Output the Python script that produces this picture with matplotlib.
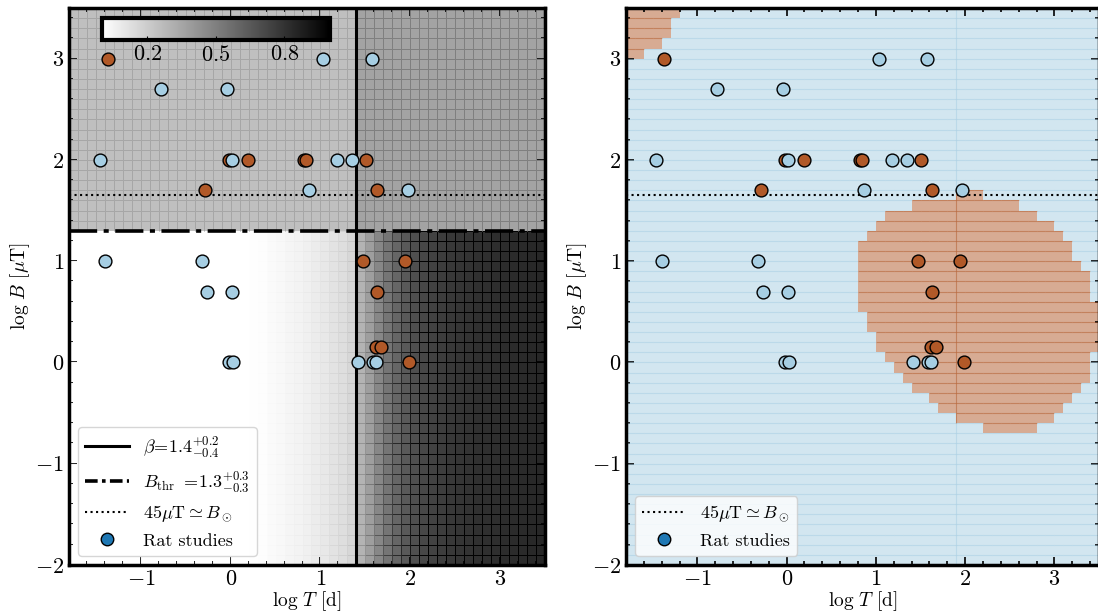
import numpy as np
import matplotlib
matplotlib.use('Agg')
import matplotlib.pyplot as plt
from matplotlib.colors import ListedColormap, Normalize
from matplotlib.collections import LineCollection
from matplotlib.lines import Line2D
from matplotlib.ticker import MultipleLocator

plt.rcParams['font.family'] = 'serif'
plt.rcParams['font.serif'] = ['cmr10']
plt.rcParams['mathtext.fontset'] = 'cm'
plt.rcParams['axes.formatter.use_mathtext'] = True

# rat studies: log duration [d], log field [uT]
T_pos = [-1.37, -0.02, 0.19, 0.82, 0.84, 1.51, -0.29, 1.63, 1.47, 1.94, 1.63, 1.62, 1.67, 1.99]
B_pos = [3.0, 2.0, 2.0, 2.0, 2.0, 2.0, 1.7, 1.7, 1.0, 1.0, 0.7, 0.15, 0.15, 0.0]
T_neg = [1.03, 1.57, -0.78, -0.04, -1.46, 0.02, 1.18, 1.35, 0.87, 1.97,
         -1.40, -0.32, -0.26, 0.01, -0.02, 0.03, 1.42, 1.58, 1.62]
B_neg = [3.0, 3.0, 2.7, 2.7, 2.0, 2.0, 2.0, 2.0, 1.7, 1.7,
         1.0, 1.0, 0.7, 0.7, 0.0, 0.0, 0.0, 0.0, 0.0]

beta = 1.4
B_thr = 1.3
B_sun = np.log10(45)

# model grid (0.1 dex cells)
T_edges = np.round(np.arange(-1.8, 3.55, 0.1), 2)
B_edges = np.round(np.arange(-2.0, 3.55, 0.1), 2)

# probability below threshold, one value per T column (from -1.8)
gray_below = [0.0] * 20 + [0.005, 0.01, 0.02, 0.03, 0.04, 0.05, 0.06, 0.075, 0.09, 0.11,
                           0.13, 0.16, 0.30, 0.38, 0.47, 0.54, 0.60, 0.65, 0.69, 0.72,
                           0.74, 0.76, 0.78, 0.79, 0.80, 0.81, 0.815, 0.82, 0.825, 0.83,
                           0.835, 0.84, 0.845]
gray_above_left = 0.25
gray_above_right = 0.36

# classifier region, rows as (B low edge, T start, T end)
region_rows = [(1.6, 1.9, 2.2), (1.5, 1.4, 2.6), (1.4, 1.1, 2.8), (1.3, 1.0, 3.0),
               (1.2, 0.9, 3.1), (1.1, 0.8, 3.2), (1.0, 0.8, 3.2), (0.9, 0.8, 3.3),
               (0.8, 0.8, 3.4), (0.7, 0.8, 3.4), (0.6, 0.8, 3.4), (0.5, 0.8, 3.5),
               (0.4, 0.9, 3.5), (0.3, 0.9, 3.5), (0.2, 1.0, 3.5), (0.1, 1.0, 3.5),
               (0.0, 1.1, 3.4), (-0.1, 1.2, 3.4), (-0.2, 1.3, 3.4), (-0.3, 1.4, 3.3),
               (-0.4, 1.6, 3.2), (-0.5, 1.7, 3.1), (-0.6, 1.9, 3.0), (-0.7, 2.2, 2.8),
               (3.0, -1.8, -1.6), (3.1, -1.8, -1.4), (3.2, -1.8, -1.3), (3.3, -1.8, -1.3),
               (3.4, -1.8, -1.2)]
seam_T = 1.9

c_pos = '#b15928'
c_neg = '#a6cee3'
c_leg = '#1f78b4'


def idx(v, lo):
    return int(round((v - lo) / 0.1))


nT = len(T_edges) - 1
nB = len(B_edges) - 1
T_mid = 0.5 * (T_edges[1:] + T_edges[:-1])
B_mid = 0.5 * (B_edges[1:] + B_edges[:-1])

G = np.zeros((nB, nT))
for i in range(nB):
    if B_mid[i] < B_thr:
        G[i] = gray_below
    else:
        G[i] = np.where(T_mid < beta, gray_above_left, gray_above_right)

M = np.zeros((nB, nT))
for b, t0, t1 in region_rows:
    M[idx(b, -2.0), idx(t0, -1.8):idx(t1, -1.8)] = 1


def cell_lines(vals, horizontal=True, vertical=False, seam=None):
    segs, v = [], []
    for i in range(nB):
        for j in range(nT):
            if horizontal:
                segs.append([(T_edges[j], B_edges[i + 1]), (T_edges[j + 1], B_edges[i + 1])])
                v.append(vals[i, j])
            if vertical:
                segs.append([(T_edges[j + 1], B_edges[i]), (T_edges[j + 1], B_edges[i + 1])])
                v.append(vals[i, j])
        if seam is not None:
            j = idx(seam, -1.8)
            segs.append([(T_edges[j], B_edges[i]), (T_edges[j], B_edges[i + 1])])
            v.append(vals[i, j])
    return segs, np.array(v)


fig = plt.figure(figsize=(10.98, 6.13), dpi=100)
ax1 = fig.add_axes([69 / 1098, 48 / 613, 476 / 1098, 557 / 613])
ax2 = fig.add_axes([626 / 1098, 48 / 613, 473 / 1098, 557 / 613])

# left: probability map
mesh = ax1.pcolormesh(T_edges, B_edges, G, cmap='gray_r', vmin=0, vmax=1)
segs, v = cell_lines(G, horizontal=True, vertical=True)
lc = LineCollection(segs, cmap='gray_r', norm=Normalize(0, 1), linewidths=0.7)
lc.set_array(np.minimum(v * 1.4, 1.0))
ax1.add_collection(lc)

ax1.axvline(beta, color='k', lw=2.2, zorder=3)
ax1.axhline(B_thr, color='k', lw=2.6, ls=(0, (7.8, 1.8, 1.4, 1.8)), zorder=3)
ax1.axhline(B_sun, color='k', lw=1.5, ls=':', zorder=3)

# right: classifier
two = ListedColormap([c_neg, c_pos])
ax2.pcolormesh(T_edges, B_edges, M, cmap=two, vmin=0, vmax=1, alpha=0.5)
segs, v = cell_lines(M, horizontal=True, seam=seam_T)
lc2 = LineCollection(segs, cmap=two, norm=Normalize(0, 1), linewidths=0.8, alpha=0.5)
lc2.set_array(v)
ax2.add_collection(lc2)
ax2.axhline(B_sun, color='k', lw=1.5, ls=':', zorder=3)

for ax in (ax1, ax2):
    ax.scatter(T_pos, B_pos, s=85, c=c_pos, edgecolors='k', linewidths=1, zorder=5)
    ax.scatter(T_neg, B_neg, s=85, c=c_neg, edgecolors='k', linewidths=1, zorder=5)
    ax.set_xlim(-1.8, 3.5)
    ax.set_ylim(-2.0, 3.5)
    ax.xaxis.set_major_locator(MultipleLocator(1))
    ax.yaxis.set_major_locator(MultipleLocator(1))
    ax.xaxis.set_minor_locator(MultipleLocator(0.2))
    ax.yaxis.set_minor_locator(MultipleLocator(0.2))
    ax.tick_params(which='both', direction='in', top=True, right=True, labelsize=16, width=1.2)
    ax.tick_params(which='major', length=6)
    ax.tick_params(which='minor', length=3)
    for s in ax.spines.values():
        s.set_linewidth(2.5)
    ax.set_xlabel(r'$\log\,T$ [d]', fontsize=14, labelpad=0)
    ax.set_ylabel(r'$\log\,B$ [$\mu$T]', fontsize=14, labelpad=2)

rat = Line2D([], [], marker='o', ls='none', markerfacecolor=c_leg, markeredgecolor='k',
             markersize=9, label='Rat studies')
h_beta = Line2D([], [], color='k', lw=2.2, label=r'$\beta\!=\!1.4^{+0.2}_{-0.4}$')
h_thr = Line2D([], [], color='k', lw=2.6, ls=(0, (3.5, 1.2, 1.0, 1.2)),
               label=r'$B_{\rm thr}$ $=\!1.3^{+0.3}_{-0.3}$')
h_sun = Line2D([], [], color='k', lw=1.5, ls=':', label=r'$45\mu$T$\simeq B_\odot$')

ax1.legend(handles=[h_beta, h_thr, h_sun, rat], loc='lower left', fontsize=13,
           handlelength=2.4, framealpha=0.8)
ax2.legend(handles=[h_sun, rat], loc='lower left', fontsize=13,
           handlelength=2.4, framealpha=0.8)

cax = ax1.inset_axes([0.069, 0.9425, 0.479, 0.0395])
cb = fig.colorbar(mesh, cax=cax, orientation='horizontal', ticks=[0.2, 0.5, 0.8])
cb.outline.set_linewidth(3)
cax.tick_params(labelsize=16, direction='in', length=3)

fig.savefig('out.png', dpi=100)
